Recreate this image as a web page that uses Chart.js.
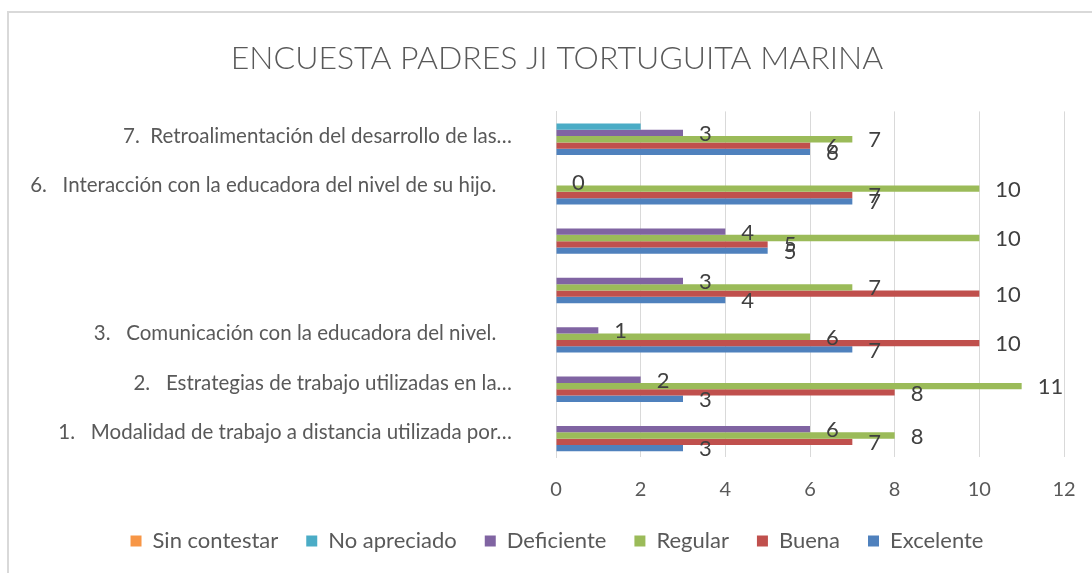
<!DOCTYPE html>
<html>
<head>
<meta charset="utf-8">
<script src="https://cdn.jsdelivr.net/npm/chart.js@4"></script>
<style>
  html, body { margin: 0; padding: 0; background: #fff; overflow: hidden; width: 1092px; height: 573px; }
  #wrap { position: absolute; left: 0; top: 0; width: 1104px; height: 573px; }
</style>
</head>
<body>
<div id="wrap"><canvas id="c" width="1104" height="573"></canvas></div>
<script>
// Categories, top to bottom
const categories = [
  "7.  Retroalimentación del desarrollo de las…",
  "6.   Interacción con la educadora del nivel de su hijo.   ",
  "",
  "",
  "3.   Comunicación con la educadora del nivel.   ",
  "2.   Estrategias de trabajo utilizadas en la…",
  "1.   Modalidad de trabajo a distancia utilizada por…"
];

// Series values (same order as categories)
const sinContestar = [0, 0, 0, 0, 0, 0, 0];
const noApreciado  = [2, 0, 0, 0, 0, 0, 0];
const deficiente   = [3, 0, 4, 3, 1, 2, 6];
const regular      = [7, 10, 10, 7, 6, 11, 8];
const buena        = [6, 7, 5, 10, 10, 8, 7];
const excelente    = [6, 7, 5, 4, 7, 3, 3];

const xTicks = [0, 2, 4, 6, 8, 10, 12];

const TEXT = '#595959';
const GRID = '#d9d9d9';
const FONT = 'Lato, "Open Sans", sans-serif';

const series = [
  { label: 'Sin contestar', data: sinContestar, color: '#F79646', showLabels: false },
  { label: 'No apreciado',  data: noApreciado,  color: '#4BACC6', showLabels: false },
  { label: 'Deficiente',    data: deficiente,   color: '#8064A2', showLabels: true },
  { label: 'Regular',       data: regular,      color: '#9BBB59', showLabels: true },
  { label: 'Buena',         data: buena,        color: '#C0504D', showLabels: true },
  { label: 'Excelente',     data: excelente,    color: '#4F81BD', showLabels: true }
];

const frame = {
  id: 'frame',
  beforeDraw(chart) {
    const ctx = chart.ctx;
    ctx.save();
    ctx.fillStyle = '#fff';
    ctx.fillRect(0, 0, chart.width, chart.height);
    ctx.strokeStyle = GRID;
    ctx.lineWidth = 2;
    ctx.beginPath();
    ctx.moveTo(8, chart.height + 2);
    ctx.lineTo(8, 12);
    ctx.lineTo(chart.width + 2, 12);
    ctx.stroke();
    ctx.restore();
  }
};

const valueLabels = {
  id: 'valueLabels',
  afterDatasetsDraw(chart) {
    const ctx = chart.ctx;
    ctx.save();
    ctx.font = '22px ' + FONT;
    ctx.fillStyle = '#404040';
    ctx.textAlign = 'left';
    ctx.textBaseline = 'middle';
    chart.data.datasets.forEach((ds, i) => {
      if (!ds.showLabels) return;
      const meta = chart.getDatasetMeta(i);
      meta.data.forEach((el, j) => {
        const v = ds.data[j];
        if (v === null || v === undefined) return;
        ctx.fillText(String(v), el.x + 16, el.y + 1);
      });
    });
    ctx.restore();
  }
};

new Chart(document.getElementById('c'), {
  type: 'bar',
  data: {
    labels: categories,
    datasets: series.map(s => ({
      label: s.label,
      data: s.data,
      backgroundColor: s.color,
      borderWidth: 0,
      barPercentage: 1.0,
      categoryPercentage: 0.77,
      showLabels: s.showLabels
    }))
  },
  options: {
    indexAxis: 'y',
    responsive: false,
    animation: false,
    layout: { padding: { left: 10, right: 0, top: 0, bottom: 11 } },
    plugins: {
      title: {
        display: true,
        text: 'ENCUESTA PADRES JI TORTUGUITA MARINA',
        color: TEXT,
        font: { family: FONT, size: 32, weight: '300' },
        padding: { top: 39, bottom: 34 }
      },
      legend: {
        position: 'bottom',
        labels: {
          color: TEXT,
          font: { family: FONT, size: 22 },
          boxWidth: 11,
          boxHeight: 11,
          padding: 28
        }
      },
      tooltip: { enabled: false }
    },
    scales: {
      x: {
        min: 0,
        max: 12,
        afterBuildTicks(scale) { scale.ticks = xTicks.map(v => ({ value: v })); },
        afterFit(scale) { scale.height = 45; },
        ticks: { color: TEXT, font: { family: FONT, size: 20 }, padding: 21 },
        grid: { color: GRID, drawTicks: false },
        border: { display: false }
      },
      y: {
        afterFit(scale) { scale.width = 546; },
        ticks: { color: TEXT, font: { family: FONT, size: 20.5 }, padding: 44, autoSkip: false },
        grid: { display: false, drawTicks: false },
        border: { color: GRID, width: 1 }
      },
      yRight: {
        type: 'category',
        position: 'right',
        afterFit(scale) { scale.width = 40; },
        ticks: { display: false },
        grid: { display: false, drawTicks: false },
        border: { display: false }
      }
    }
  },
  plugins: [frame, valueLabels]
});
</script>
</body>
</html>
